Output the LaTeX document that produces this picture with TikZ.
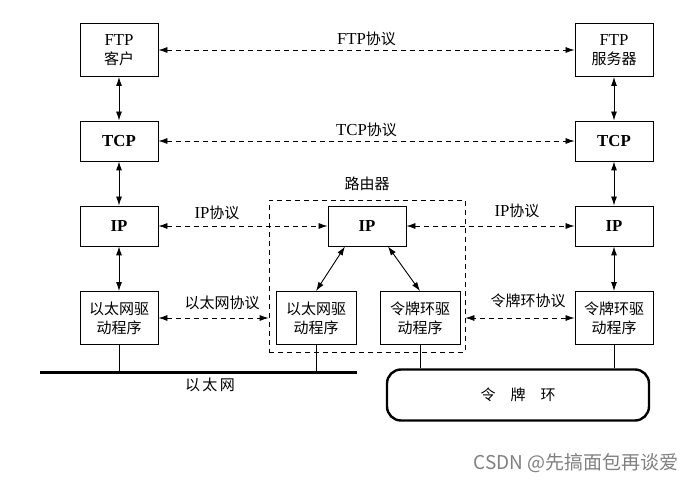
\documentclass[tikz,border=0pt]{standalone}
\usepackage{fontspec}
\setmainfont{Liberation Serif}[Scale=1.12]
\newfontfamily\cjk{Noto Sans CJK SC}
\newcommand{\zh}[1]{{\cjk #1}}
\usetikzlibrary{arrows.meta}
\begin{document}
\begin{tikzpicture}[x=1pt,y=-1pt,
  >={Latex[length=9pt,width=6pt]},
  every node/.style={font=\fontsize{15}{19}\selectfont},
  box/.style={draw,line width=0.9pt,minimum width=78pt,minimum height=40pt,align=center,inner sep=1pt},
  tallbox/.style={box,minimum height=53pt},
  bbox/.style={box,font=\fontsize{15}{19}\selectfont\bfseries},
  dasharrow/.style={<->,dash pattern=on 5pt off 4pt,line width=0.8pt},
  solidarrow/.style={<->,line width=0.9pt},
  lbl/.style={inner sep=1pt}]
\useasboundingbox (0,0) rectangle (697,484);

% left host
\node[tallbox] (ftpC) at (119,50) {FTP\\\zh{客户}};
\node[bbox] (tcpL) at (119,141) {TCP};
\node[bbox] (ipL) at (119,226) {IP};
\node[tallbox] (ethL) at (119,318) {\zh{以太网驱}\\\zh{动程序}};

% right host
\node[tallbox] (ftpS) at (614,50) {FTP\\\zh{服务器}};
\node[bbox] (tcpR) at (614,141) {TCP};
\node[bbox] (ipR) at (614,226) {IP};
\node[tallbox] (tokR) at (614,318) {\zh{令牌环驱}\\\zh{动程序}};

% router
\node[draw,dash pattern=on 5pt off 4pt,line width=0.8pt,minimum width=196pt,minimum height=152pt] (router) at (367,276) {};
\node[lbl] (routerlbl) at (367,184) {\zh{路由器}};
\node[bbox] (ipM) at (367,226) {IP};
\node[tallbox,minimum width=80pt] (ethM) at (316,318) {\zh{以太网驱}\\\zh{动程序}};
\node[tallbox,minimum width=80pt] (tokM) at (420,318) {\zh{令牌环驱}\\\zh{动程序}};

% networks
\coordinate (busL) at (40,372.5);
\coordinate (busR) at (357,372.5);
\draw[line width=2.6pt] (busL) -- (busR);
\node[lbl] (ethnet) at (210,385) {\zh{以\,太\,网}};
\node[draw,line width=2.4pt,rounded corners=14pt,minimum width=262pt,minimum height=51pt] (ring) at (518,395) {\zh{令\quad 牌\quad 环}};

% vertical links
\draw[solidarrow] (ftpC) -- (tcpL);
\draw[solidarrow] (tcpL) -- (ipL);
\draw[solidarrow] (ipL) -- (ethL);
\draw[solidarrow] (ftpS) -- (tcpR);
\draw[solidarrow] (tcpR) -- (ipR);
\draw[solidarrow] (ipR) -- (tokR);
\draw[solidarrow] ([xshift=-22pt]ipM.south) -- (ethM.north);
\draw[solidarrow] ([xshift=21pt]ipM.south) -- (tokM.north);

\draw[line width=0.6pt] (ethL.south) -- (ethL.south |- busL);
\draw[line width=0.6pt] (ethM.south) -- (ethM.south |- busL);
\draw[line width=0.6pt] (tokM.south) -- (tokM.south |- ring.north);
\draw[line width=0.6pt] (tokR.south) -- (tokR.south |- ring.north);

% peer protocols
\draw[dasharrow] (ftpC) -- node[lbl,above=3pt] (ftpP) {FTP\zh{协议}} (ftpS);
\draw[dasharrow] (tcpL) -- node[lbl,above=3pt] (tcpP) {TCP\zh{协议}} (tcpR);
\draw[dasharrow] (ipL) -- (ipM);
\node[lbl] (ipPL) at (217,213) {IP\zh{协议}};
\draw[dasharrow] (ipM) -- (ipR);
\node[lbl] (ipPR) at (517,211) {IP\zh{协议}};
\draw[dasharrow] (ethL.east) -- (router.west |- ethL.east);
\node[lbl] (ethP) at (222,303) {\zh{以太网协议}};
\draw[dasharrow] (tokR.west) -- (router.east |- tokR.west);
\node[lbl] (tokP) at (528,301) {\zh{令牌环协议}};

% watermark
\node[lbl,text=gray,font=\fontsize{19}{23}\sffamily\cjk] (wm) at (576,463) {CSDN @先搞面包再谈爱};
\end{tikzpicture}
\end{document}
